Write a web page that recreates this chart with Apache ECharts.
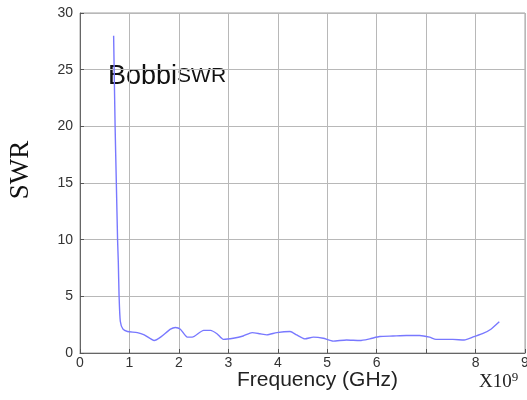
<!DOCTYPE html>
<html>
<head>
<meta charset="utf-8">
<script src="https://cdn.jsdelivr.net/npm/echarts@6/dist/echarts.min.js"></script>
<style>
  html, body { margin: 0; padding: 0; background: #fff; }
  #main { width: 527px; height: 400px; }
</style>
</head>
<body>
<div id="main"></div>
<script>
// frequency (x10^9 Hz) and SWR
var freq = [0.68, 0.71, 0.735, 0.76, 0.775, 0.79, 0.815, 0.87, 0.96, 1.16, 1.3, 1.5, 1.63, 1.83, 1.93, 2.03,
  2.17, 2.27, 2.5, 2.64, 2.77, 2.9, 3.1, 3.3, 3.48, 3.64, 3.78, 3.98, 4.25, 4.38, 4.55, 4.72, 4.92,
  5.12, 5.39, 5.66, 5.86, 6.06, 6.33, 6.6, 6.87, 7.07, 7.2, 7.54, 7.77, 7.97, 8.14, 8.31, 8.48];
var swr = [28.0, 20.0, 15.0, 10.0, 8.0, 5.1, 2.8, 2.1, 1.9, 1.8, 1.6, 1.1, 1.4, 2.1, 2.25, 2.1,
  1.4, 1.4, 2.0, 2.0, 1.7, 1.2, 1.3, 1.5, 1.8, 1.7, 1.6, 1.8, 1.9, 1.6, 1.25, 1.4, 1.3,
  1.05, 1.15, 1.1, 1.25, 1.45, 1.5, 1.55, 1.55, 1.4, 1.2, 1.2, 1.15, 1.45, 1.7, 2.1, 2.75];
var xTickLabels = ['0', '1', '2', '3', '4', '5', '6', '', '8', '9'];

var points = freq.map(function (f, i) { return [f, swr[i]]; });

var chart = echarts.init(document.getElementById('main'));
chart.setOption({
  animation: false,
  grid: {
    left: 80, right: 2, top: 13, bottom: 47, outerBoundsMode: 'none',
    show: true, borderColor: '#a0a0a0', borderWidth: 1
  },
  xAxis: {
    type: 'value', min: 0, max: 9, interval: 1,
    axisLine: { show: true, lineStyle: { color: '#666' } },
    axisTick: { show: true, inside: true, length: 4, lineStyle: { color: '#555' } },
    splitLine: { show: true, lineStyle: { color: '#b8b8b8' } },
    axisLabel: {
      color: '#333', fontSize: 14, fontFamily: 'Liberation Sans', margin: 3,
      formatter: function (v) { return xTickLabels[Math.round(v)]; }
    }
  },
  yAxis: {
    type: 'value', min: 0, max: 30, interval: 5,
    axisLine: { show: true, lineStyle: { color: '#666' } },
    axisTick: { show: true, inside: true, length: 4, lineStyle: { color: '#555' } },
    splitLine: { show: true, lineStyle: { color: '#b8b8b8' } },
    axisLabel: { color: '#333', fontSize: 14, fontFamily: 'Liberation Sans', margin: 7 }
  },
  graphic: [
    {
      type: 'text', x: 21, y: 170, rotation: Math.PI / 2,
      style: {
        text: 'SWR', fontFamily: 'Liberation Serif', fontSize: 27, fill: '#111',
        align: 'center', verticalAlign: 'middle'
      }
    },
    {
      type: 'text', left: 108, top: 63,
      style: {
        text: '{a|Bobbi}{b|SWR}',
        rich: {
          a: { fontFamily: 'Liberation Sans', fontSize: 27, fill: '#111' },
          b: { fontFamily: 'Liberation Sans', fontSize: 21, fill: '#111' }
        }
      }
    },
    {
      type: 'text', left: 237, top: 370,
      style: { text: 'Frequency (GHz)', fontFamily: 'Liberation Sans', fontSize: 21, fill: '#222' }
    },
    {
      type: 'text', left: 479, top: 371,
      style: {
        text: '{a|X10}{b|9}',
        rich: {
          a: { fontFamily: 'Liberation Serif', fontSize: 19, fill: '#222', verticalAlign: 'bottom' },
          b: { fontFamily: 'Liberation Serif', fontSize: 13, fill: '#222', verticalAlign: 'top', padding: [0, 0, 8, 0] }
        }
      }
    }
  ],
  series: [{
    type: 'line', data: points, showSymbol: false, smooth: 0.2,
    lineStyle: { color: '#7878ff', width: 1.4 }
  }]
});
</script>
</body>
</html>
